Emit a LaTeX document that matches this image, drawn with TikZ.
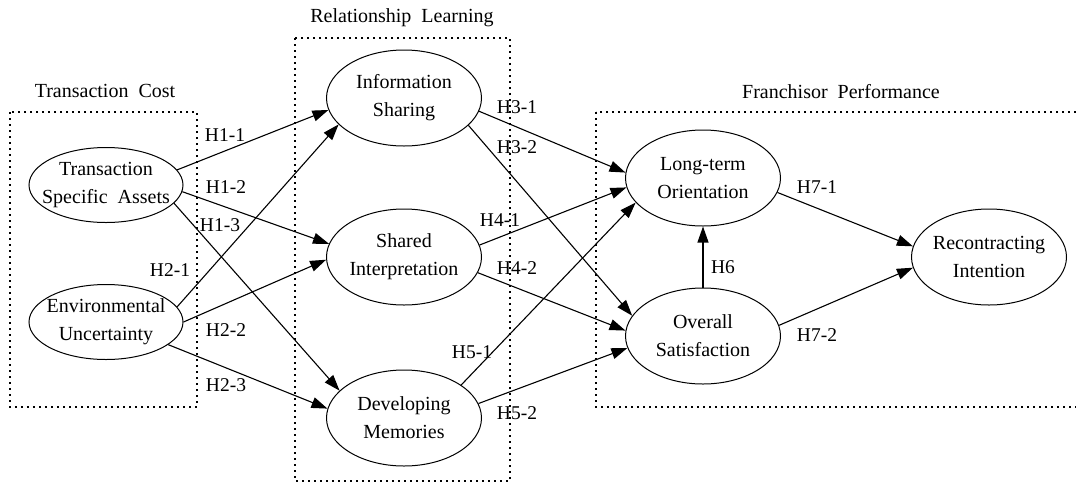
\documentclass[tikz,border=0pt]{standalone}
\usepackage{fontspec}
\setmainfont{Liberation Serif}
\usetikzlibrary{shapes.geometric,arrows.meta}
\begin{document}
\begin{tikzpicture}[x=1pt,y=-1pt,
  txt/.style={font=\fontsize{20}{28}\selectfont, align=center, inner sep=0pt},
  var/.style={draw, ellipse, line width=1pt, inner sep=0pt, minimum width=155pt, minimum height=96pt},
  small/.style={minimum width=154pt, minimum height=75pt},
  grp/.style={line width=2pt, dash pattern=on 2pt off 4pt},
  arr/.style={line width=1.1pt, -{Triangle[length=16pt,width=11pt]}},
  hl/.style={font=\fontsize{19.5}{22}\selectfont, inner sep=0pt}]
\useasboundingbox (0,0) rectangle (1076,483);
% group boxes
\draw[grp] (10,112) rectangle (197,407);
\draw[grp] (295,38) rectangle (510,481);
\draw[grp] (596,112) rectangle (1090,407);
\node[txt] (tc) at (105,91) {Transaction~ Cost};
\node[txt] (rl) at (402,18) {Relationship~ Learning};
\node[txt] (fp) at (841,92) {Franchisor~ Performance};
% variables
\node[var, small, label={[txt]center:Transaction\\Specific~ Assets}] (tsa) at (106,185) {};
\node[var, small, label={[txt]center:Environmental\\Uncertainty}] (eu) at (106,322) {};
\node[var, label={[txt]center:Information\\Sharing}] (is) at (404,98) {};
\node[var, label={[txt]center:Shared\\Interpretation}] (si) at (404,257) {};
\node[var, label={[txt]center:Developing\\Memories}] (dm) at (404,418) {};
\node[var, label={[txt]center:Long-term\\Orientation}] (lo) at (703,178) {};
\node[var, label={[txt]center:Overall\\Satisfaction}] (os) at (703,336) {};
\node[var, label={[txt]center:Recontracting\\Intention}] (ri) at (989,257) {};
% connectors
\draw[arr] (tsa.12) -- (is.189);
\draw[arr] (tsa.-5) -- (si.170);
\draw[arr] (tsa.-15) -- (dm.157);
\draw[arr] (eu.12) -- (is.202);
\draw[arr] (eu.0) -- (si.182);
\draw[arr] (eu.-20) -- (dm.173);
\draw[arr] (is.-10) -- (lo.176);
\draw[arr] (is.-23) -- (os.164);
\draw[arr] (si.9) -- (lo.187);
\draw[arr] (si.-12) -- (os.176);
\draw[arr] (dm.30) -- (lo.200);
\draw[arr] (dm.11) -- (os.189);
\draw[arr] (os.90) -- (lo.270);
\draw[arr] (lo.-11) -- (ri.172);
\draw[arr] (os.8) -- (ri.188);
% hypothesis labels
\node[hl] (h11) at (225,135) {H1-1};
\node[hl] (h12) at (226,187) {H1-2};
\node[hl] (h13) at (220,225) {H1-3};
\node[hl] (h21) at (170,270) {H2-1};
\node[hl] (h22) at (226,330) {H2-2};
\node[hl] (h23) at (226,385) {H2-3};
\node[hl] (h31) at (517,107) {H3-1};
\node[hl] (h32) at (517,147) {H3-2};
\node[hl] (h41) at (500,220) {H4-1};
\node[hl] (h42) at (517,268) {H4-2};
\node[hl] (h51) at (472,352) {H5-1};
\node[hl] (h52) at (517,413) {H5-2};
\node[hl] (h6) at (723,267) {H6};
\node[hl] (h71) at (817,187) {H7-1};
\node[hl] (h72) at (817,335) {H7-2};
\end{tikzpicture}
\end{document}
